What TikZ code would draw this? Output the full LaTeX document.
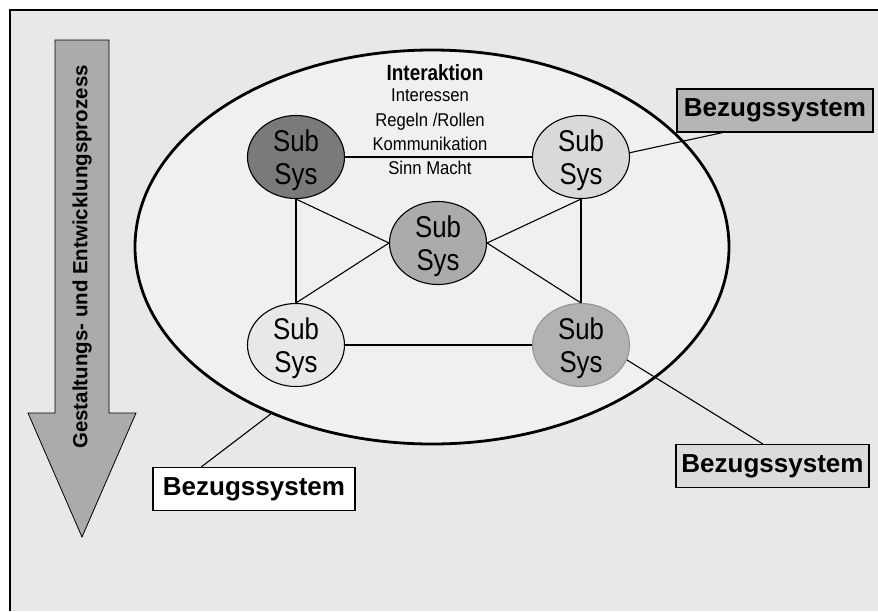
\documentclass[tikz,border=0pt]{standalone}
\usepackage{fontspec}
\setmainfont{Liberation Sans}
\newfontfamily\schmal[FakeStretch=0.86]{Liberation Sans}
\newfontfamily\schmaler[FakeStretch=0.9]{Liberation Sans}
\usepackage{tikz}
\usetikzlibrary{shapes.geometric,calc}
\usepackage{xcolor}

\begin{document}
\begin{tikzpicture}[x=1pt, y=-1pt,
  subsys/.style={ellipse, draw, line width=1.1pt, minimum width=97, minimum height=83, inner sep=0pt,
    align=center, text depth=0pt, font=\fontsize{30}{33}\selectfont\schmal},
  bezug/.style={draw, line width=1.1pt, minimum height=43, inner sep=0pt, font=\fontsize{26}{30}\selectfont\bfseries},
  verbindung/.style={line width=1.1pt}]
\useasboundingbox (0,0) rectangle (878,611);
% frame, open to the right and bottom
\fill[black!9] (10,10) rectangle (878,611);
\draw[line width=1.1pt] (878,10) -- (10,10) -- (10,611);
% process arrow
\draw[fill=black!33, line width=0.8pt] (55,40) -- (109,40) -- (109,413) -- (136,413) -- (82,537) -- (28,413) -- (55,413) -- cycle;
\node[rotate=90, font=\fontsize{20.5}{24}\selectfont\bfseries] (prozess) at (82,257) {Gestaltungs- und Entwicklungsprozess};
% system boundary
\node[ellipse, draw, line width=2.8pt, fill=black!6, minimum width=594, minimum height=394] (umwelt) at (432,247) {};
% sub systems: name/position/fill
\newcommand{\subsys}[4]{\node[subsys, fill=#3, #4] (#1) at (#2) {Sub\\Sys};}
\subsys{subOL}{296,157}{black!52}{}
\subsys{subOR}{581,157}{black!15}{}
\subsys{subM}{438,243}{black!33}{}
\subsys{subUL}{296,345}{black!9}{}
\subsys{subUR}{581,345}{black!30}{draw=black!42}
\foreach \a/\b in {subOL.east/subOR.west, subOL.south/subUL.north, subOL.south/subM.west, subM.west/subUL.north,
  subM.east/subOR.south, subM.east/subUR.north, subOR.south/subUR.north, subUL.east/subUR.west}
  \draw[verbindung] (\a) -- (\b);
% interaction labels
\node[font=\fontsize{22}{26}\selectfont\schmal\bfseries] (interaktion) at (435,73) {Interaktion};
\node[anchor=north, inner sep=0pt, align=center, font=\fontsize{18.5}{24.3}\selectfont\schmaler] (themen) at (430,89)
  {Interessen\\Regeln /Rollen\\Kommunikation\\Sinn Macht};
% reference systems
\node[bezug, fill=black!29, minimum width=196] (bezugOR) at (775,110.5) {Bezugssystem};
\node[bezug, fill=black!14, minimum width=193] (bezugUR) at (772.5,466) {Bezugssystem};
\node[bezug, fill=white, minimum width=202] (bezugUL) at (254,489) {Bezugssystem};
\draw[verbindung] (subOR.5) -- ($(bezugOR.south west)!0.235!(bezugOR.south east)$);
\draw[verbindung] (subUR.-18) -- ($(bezugUR.north west)!0.45!(bezugUR.north east)$);
\draw[verbindung] (umwelt.226) -- ($(bezugUL.north west)!0.24!(bezugUL.north east)$);
\end{tikzpicture}
\end{document}
